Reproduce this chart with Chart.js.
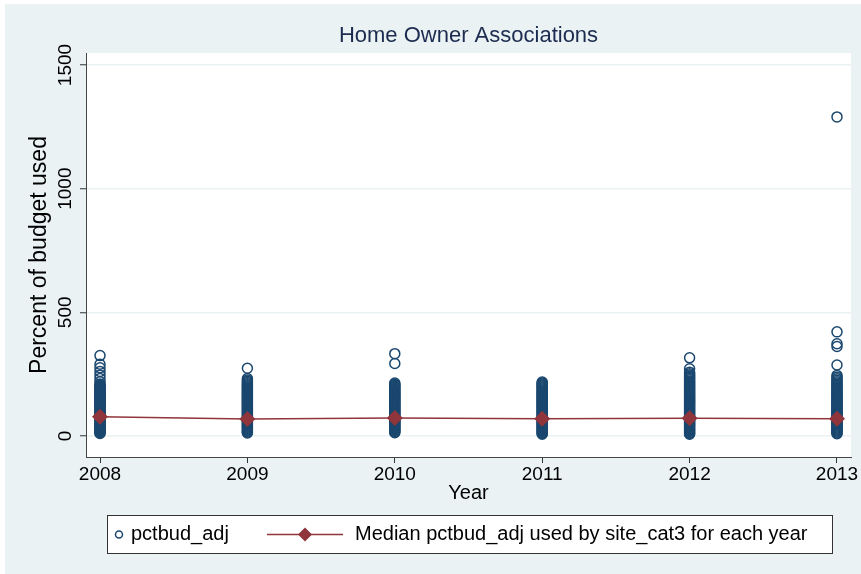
<!DOCTYPE html>
<html>
<head>
<meta charset="utf-8">
<script src="https://cdn.jsdelivr.net/npm/chart.js@4/dist/chart.umd.min.js"></script>
<style>
html,body{margin:0;padding:0;background:#fff;}
#wrap{width:861px;height:574px;}
</style>
</head>
<body>
<div id="wrap"><canvas id="c" width="861" height="574"></canvas></div>
<script>
// ---- data ----
const years = [2008, 2009, 2010, 2011, 2012, 2013];
const yTicks = [0, 500, 1000, 1500];
const medians = [78, 69, 73, 70, 72, 70];
const pct2008 = [325, 290, 276, 261, 246, 232, 219, 210, 205, 201, 197, 193, 189, 185, 181, 177, 173, 169, 165, 161, 157, 153, 149, 145, 141, 137, 133, 129, 125, 121, 117, 113, 109, 105, 101, 97, 93, 89, 85, 81, 77, 73, 69, 65, 61, 57, 53, 49, 45, 41, 37, 33, 29, 25, 21, 17, 13, 10];
const pct2009 = [274, 232, 226, 221, 216, 211, 207, 203, 199, 195, 191, 187, 183, 179, 175, 171, 167, 163, 159, 155, 151, 147, 143, 139, 135, 131, 127, 123, 119, 115, 111, 107, 103, 99, 95, 91, 87, 83, 79, 75, 71, 67, 63, 59, 55, 51, 47, 43, 39, 35, 31, 27, 23, 19, 15, 12];
const pct2010 = [333, 293, 214, 209, 205, 201, 197, 193, 189, 185, 181, 177, 173, 169, 165, 161, 157, 153, 149, 145, 141, 137, 133, 129, 125, 121, 117, 113, 109, 105, 101, 97, 93, 89, 85, 81, 77, 73, 69, 65, 61, 57, 53, 49, 45, 41, 37, 33, 29, 25, 21, 17, 13];
const pct2011 = [218, 214, 210, 206, 202, 198, 194, 190, 186, 182, 178, 174, 170, 166, 162, 158, 154, 150, 146, 142, 138, 134, 130, 126, 122, 118, 114, 110, 106, 102, 98, 94, 90, 86, 82, 78, 74, 70, 66, 62, 58, 54, 50, 46, 42, 38, 34, 30, 26, 22, 18, 14, 10, 7];
const pct2012 = [316, 272, 258, 252, 247, 242, 237, 232, 227, 222, 218, 214, 210, 206, 202, 198, 194, 190, 186, 182, 178, 174, 170, 166, 162, 158, 154, 150, 146, 142, 138, 134, 130, 126, 122, 118, 114, 110, 106, 102, 98, 94, 90, 86, 82, 78, 74, 70, 66, 62, 58, 54, 50, 46, 42, 38, 34, 30, 26, 22, 18, 14, 10, 7];
const pct2013 = [1290, 421, 373, 362, 287, 245, 238, 231, 225, 219, 214, 209, 204, 199, 194, 189, 184, 179, 174, 169, 164, 159, 154, 149, 144, 139, 134, 129, 124, 120, 116, 112, 108, 104, 100, 96, 92, 88, 84, 80, 76, 72, 68, 64, 60, 56, 52, 48, 44, 40, 36, 32, 28, 24, 20, 16, 12, 9];
const seriesLabels = ['pctbud_adj', 'Median pctbud_adj used by site_cat3 for each year'];
const titleText = 'Home Owner Associations';
const xTitle = 'Year';
const yTitle = 'Percent of budget used';

// ---- build ----
const byYear = [pct2008, pct2009, pct2010, pct2011, pct2012, pct2013];
const scatterPts = [];
years.forEach((yr, i) => byYear[i].forEach(v => scatterPts.push({x: yr, y: v})));
const medianPts = years.map((yr, i) => ({x: yr, y: medians[i]}));

const NAVY = '#1A476F';
const MAROON = '#90353B';
const BG = '#EAF2F3';
const FONT = "'Liberation Sans', Arial, sans-serif";

Chart.defaults.font.family = FONT;
Chart.defaults.color = '#000';

const bgPlugin = {
  id: 'bgPlugin',
  beforeDraw(chart) {
    const ctx = chart.ctx;
    const a = chart.chartArea;
    ctx.save();
    ctx.fillStyle = BG;
    ctx.fillRect(0, 0, chart.width, chart.height);
    ctx.fillStyle = '#ffffff';
    ctx.fillRect(0, 0, chart.width, 4);
    ctx.fillRect(0, 0, 5, chart.height);
    ctx.fillRect(a.left, a.top, a.right - a.left, a.bottom - a.top);
    ctx.restore();
  }
};

const legendPlugin = {
  id: 'legendPlugin',
  afterDraw(chart) {
    const ctx = chart.ctx;
    ctx.save();
    const bx = 107.5, by = 515.5, bw = 725, bh = 38;
    ctx.fillStyle = '#ffffff';
    ctx.fillRect(bx, by, bw, bh);
    ctx.strokeStyle = '#333';
    ctx.lineWidth = 1;
    ctx.strokeRect(bx, by, bw, bh);
    const cy = by + bh / 2;
    ctx.beginPath();
    ctx.arc(119, cy, 3.5, 0, Math.PI * 2);
    ctx.strokeStyle = NAVY;
    ctx.lineWidth = 1.5;
    ctx.stroke();
    ctx.fillStyle = '#000';
    ctx.font = '20px ' + FONT;
    ctx.textBaseline = 'middle';
    ctx.textAlign = 'left';
    ctx.fillText(seriesLabels[0], 131, cy);
    ctx.beginPath();
    ctx.moveTo(267, cy);
    ctx.lineTo(343, cy);
    ctx.strokeStyle = MAROON;
    ctx.lineWidth = 1.5;
    ctx.stroke();
    ctx.beginPath();
    ctx.moveTo(305, cy - 7);
    ctx.lineTo(312, cy);
    ctx.lineTo(305, cy + 7);
    ctx.lineTo(298, cy);
    ctx.closePath();
    ctx.fillStyle = MAROON;
    ctx.fill();
    ctx.fillStyle = '#000';
    ctx.fillText(seriesLabels[1], 355, cy);
    ctx.restore();
  }
};

new Chart(document.getElementById('c'), {
  type: 'scatter',
  data: {
    datasets: [
      {
        type: 'line',
        label: seriesLabels[1],
        data: medianPts,
        borderColor: MAROON,
        backgroundColor: MAROON,
        borderWidth: 1.5,
        pointStyle: 'rectRot',
        pointRadius: 8,
        pointBorderWidth: 0,
        pointBackgroundColor: MAROON,
        tension: 0,
        order: 0
      },
      {
        label: seriesLabels[0],
        data: scatterPts,
        pointStyle: 'circle',
        pointRadius: 5,
        pointBorderWidth: 1.5,
        borderColor: NAVY,
        backgroundColor: 'rgba(0,0,0,0)',
        order: 1
      }
    ]
  },
  options: {
    responsive: false,
    animation: false,
    layout: { padding: { left: 5, right: 10, top: 0, bottom: 67 } },
    plugins: {
      legend: { display: false },
      tooltip: { enabled: false },
      title: {
        display: true,
        fullSize: false,
        text: titleText,
        color: '#1c2b4f',
        font: { size: 22, weight: 'normal', family: FONT },
        padding: { top: 23, bottom: 3.6 }
      }
    },
    scales: {
      x: {
        type: 'linear',
        min: 2007.905,
        max: 2013.095,
        afterBuildTicks: s => { s.ticks = years.map(v => ({ value: v })); },
        afterFit: s => { s.height = 50; },
        ticks: {
          callback: v => String(v),
          font: { size: 19 },
          color: '#000',
          padding: 0,
          maxRotation: 0,
          autoSkip: false
        },
        grid: {
          display: true,
          drawOnChartArea: false,
          drawTicks: true,
          tickLength: 6,
          tickColor: '#333',
          tickWidth: 1
        },
        border: { display: true, color: '#444', width: 1 },
        title: {
          display: true,
          text: xTitle,
          font: { size: 20 },
          color: '#000',
          padding: { top: 0, bottom: 2 }
        }
      },
      y: {
        type: 'linear',
        min: -84.9,
        max: 1548.5,
        afterBuildTicks: s => { s.ticks = yTicks.map(v => ({ value: v })); },
        afterFit: s => { s.width = 81; },
        ticks: {
          callback: v => String(v),
          font: { size: 19 },
          color: '#000',
          minRotation: 90,
          maxRotation: 90,
          crossAlign: 'center',
          padding: -7
        },
        grid: {
          display: true,
          drawOnChartArea: true,
          color: BG,
          lineWidth: 1.5,
          drawTicks: true,
          tickLength: 6,
          tickColor: '#333',
          tickWidth: 1
        },
        border: { display: true, color: '#444', width: 1 },
        title: {
          display: true,
          text: yTitle,
          font: { size: 23 },
          color: '#000',
          padding: { top: 21, bottom: 0 }
        }
      }
    }
  },
  plugins: [bgPlugin, legendPlugin]
});
</script>
</body>
</html>
